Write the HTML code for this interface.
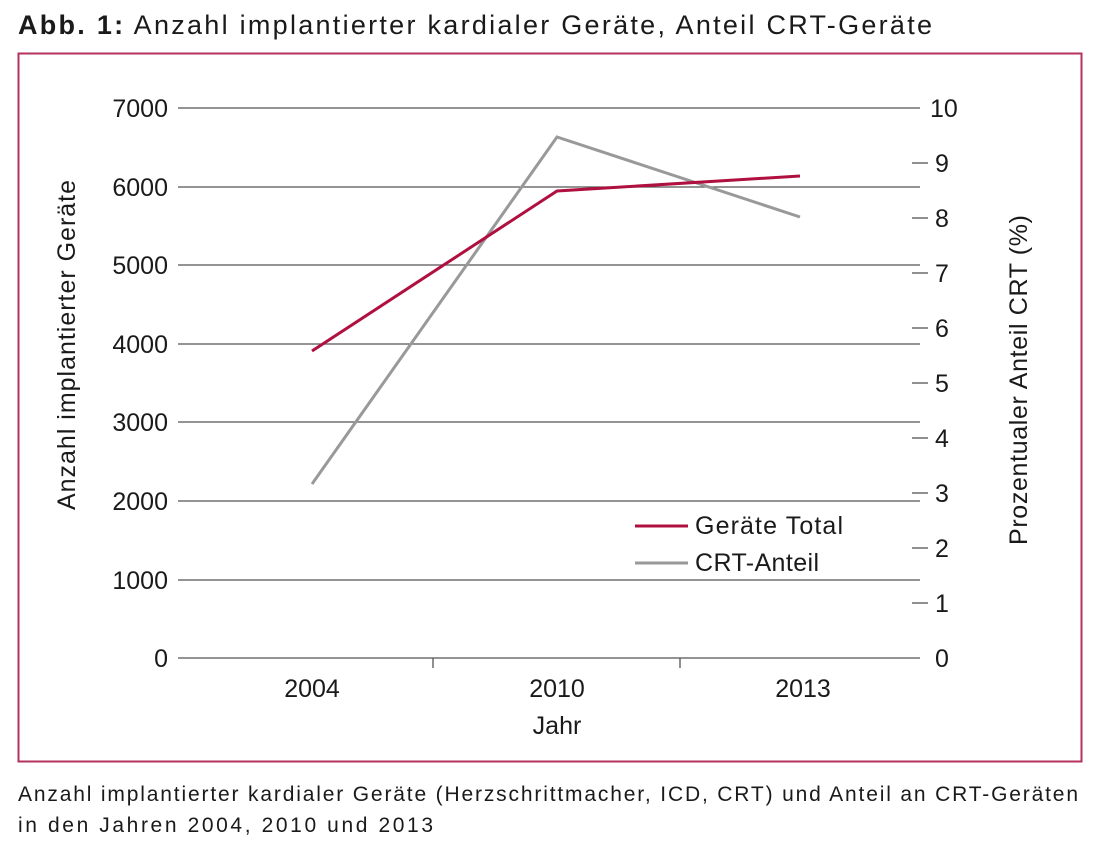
<!DOCTYPE html>
<html><head><meta charset="utf-8"><style>
html,body{margin:0;padding:0;background:#fff;}
svg{display:block;font-family:"Liberation Sans",sans-serif;}
</style></head><body>
<svg width="1100" height="850" viewBox="0 0 1100 850">
<text x="18" y="34" font-size="27" fill="#1a1a1a" textLength="914" lengthAdjust="spacing"><tspan font-weight="bold">Abb. 1:</tspan> Anzahl implantierter kardialer Geräte, Anteil CRT-Geräte</text>
<rect x="18.5" y="53.5" width="1063" height="708" fill="none" stroke="#b5315e" stroke-width="2"/>
<g stroke="#555" stroke-width="1.3">
<line x1="178" y1="108" x2="920" y2="108"/>
<line x1="178" y1="187" x2="920" y2="187"/>
<line x1="178" y1="265" x2="920" y2="265"/>
<line x1="178" y1="344" x2="920" y2="344"/>
<line x1="178" y1="422" x2="920" y2="422"/>
<line x1="178" y1="501" x2="920" y2="501"/>
<line x1="178" y1="580" x2="920" y2="580"/>
<line x1="178" y1="658" x2="920" y2="658"/>
<line x1="433" y1="658" x2="433" y2="668"/>
<line x1="680" y1="658" x2="680" y2="668"/>
<line x1="912" y1="163" x2="928" y2="163"/>
<line x1="912" y1="218" x2="928" y2="218"/>
<line x1="912" y1="273" x2="928" y2="273"/>
<line x1="912" y1="328" x2="928" y2="328"/>
<line x1="912" y1="383" x2="928" y2="383"/>
<line x1="912" y1="438" x2="928" y2="438"/>
<line x1="912" y1="493" x2="928" y2="493"/>
<line x1="912" y1="548" x2="928" y2="548"/>
<line x1="912" y1="603" x2="928" y2="603"/>
</g>
<g font-size="25" fill="#1a1a1a" text-anchor="end">
<text x="168" y="117">7000</text><text x="168" y="196">6000</text><text x="168" y="274">5000</text>
<text x="168" y="353">4000</text><text x="168" y="431">3000</text><text x="168" y="510">2000</text>
<text x="168" y="589">1000</text><text x="168" y="667">0</text>
</g>
<g font-size="25" fill="#1a1a1a">
<text x="930" y="117">10</text><text x="935" y="172">9</text><text x="935" y="227">8</text>
<text x="935" y="282">7</text><text x="935" y="337">6</text><text x="935" y="392">5</text>
<text x="935" y="447">4</text><text x="935" y="502">3</text><text x="935" y="557">2</text>
<text x="935" y="612">1</text><text x="935" y="667">0</text>
</g>
<g font-size="25" fill="#1a1a1a" text-anchor="middle">
<text x="312" y="697">2004</text><text x="557" y="697">2010</text><text x="803" y="697">2013</text>
<text x="557" y="734">Jahr</text>
<text transform="translate(75,345) rotate(-90)" textLength="330" lengthAdjust="spacing">Anzahl implantierter Geräte</text>
<text transform="translate(1027,380) rotate(-90)" textLength="330" lengthAdjust="spacing">Prozentualer Anteil CRT (%)</text>
</g>
<polyline points="312,484 557,137 800,217" fill="none" stroke="#999" stroke-width="3"/>
<polyline points="312,351 557,191 800,176" fill="none" stroke="#b0103f" stroke-width="3"/>
<line x1="635" y1="526" x2="688" y2="526" stroke="#b0103f" stroke-width="3"/>
<line x1="635" y1="563" x2="688" y2="563" stroke="#999" stroke-width="3"/>
<text x="695" y="534" font-size="25" fill="#1a1a1a" textLength="148" lengthAdjust="spacing">Geräte Total</text>
<text x="695" y="571" font-size="25" fill="#1a1a1a" textLength="124" lengthAdjust="spacing">CRT-Anteil</text>
<text x="18" y="801" font-size="21" fill="#1a1a1a" textLength="1060" lengthAdjust="spacing">Anzahl implantierter kardialer Geräte (Herzschrittmacher, ICD, CRT) und Anteil an CRT-Geräten</text>
<text x="18" y="832" font-size="21" fill="#1a1a1a" textLength="415" lengthAdjust="spacing">in den Jahren 2004, 2010 und 2013</text>
</svg>
</body></html>
